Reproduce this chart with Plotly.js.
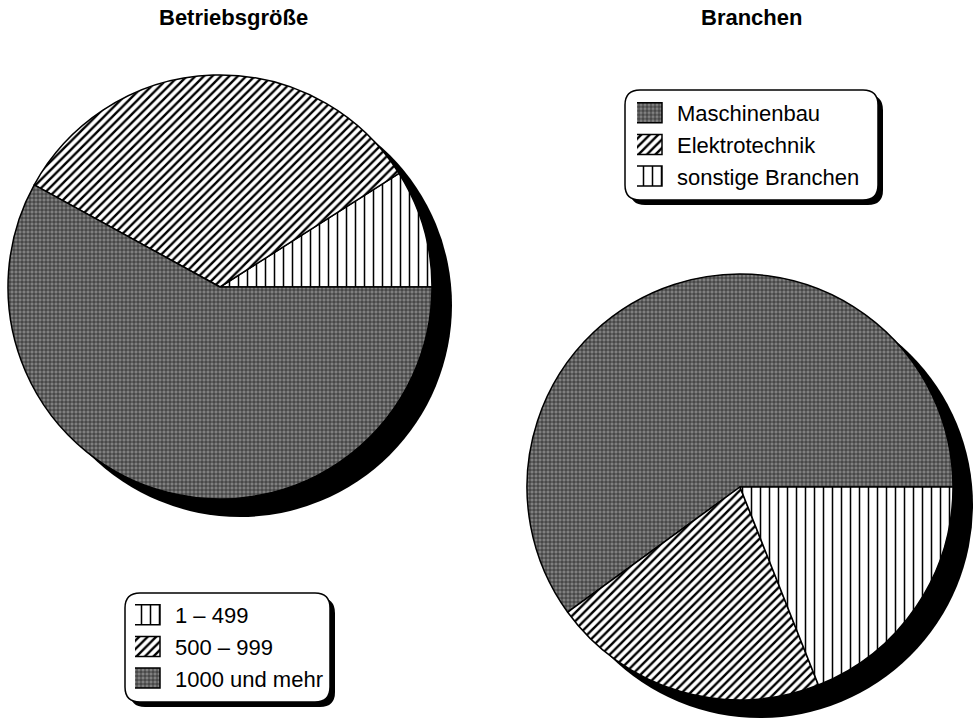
<!DOCTYPE html>
<html>
<head>
<meta charset="utf-8">
<script src="https://cdn.plot.ly/plotly-3.0.1.min.js"></script>
<style>
html,body{margin:0;padding:0;background:#fff;}
#chart{width:980px;height:721px;}
</style>
</head>
<body>
<div id="chart"></div>
<script>
// ---- data ----
const sizeLabels = ["1 \u2013 499", "500 \u2013 999", "1000 und mehr"];
const sizeValues = [9, 33, 58];
const branchLabels = ["Maschinenbau", "Elektrotechnik", "sonstige Branchen"];
const branchValues = [60, 21, 19];
const titleLeft = "Betriebsgröße";
const titleRight = "Branchen";

// ---- layout helpers (pixel -> paper) ----
const W = 980, H = 721;
const px = x => x / W;
const py = y => 1 - y / H;
function domainFor(cx, cy, r) {
  return { x: [px(cx - r), px(cx + r)], y: [py(cy + r), py(cy - r)] };
}
// Plotly (counterclockwise) puts the END of the first slice at "rotation";
// shift so the first slice STARTS at 3 o'clock.
function rotStart3(vals) {
  const s = vals.reduce((a, b) => a + b, 0);
  return 90 - 360 * vals[0] / s;
}
const SH = { dx: 20, dy: 18 };
const leftPie = { cx: 220, cy: 287, r: 212 };
const rightPie = { cx: 740, cy: 487, r: 213 };

const grayFill = "#808080";
const grayFg = "#1a1a1a";
const patternLeft = {
  shape: ["|", "/", "+"],
  fgcolor: ["#000", "#000", grayFg],
  bgcolor: ["#fff", "#fff", grayFill],
  size: [9, 6, 4],
  solidity: [0.17, 0.4, 0.3]
};
const patternRight = {
  shape: ["+", "/", "|"],
  fgcolor: [grayFg, "#000", "#000"],
  bgcolor: [grayFill, "#fff", "#fff"],
  size: [4, 6, 9],
  solidity: [0.3, 0.4, 0.17]
};

const traces = [
  { type: "pie", values: [1], labels: ["s1"], domain: domainFor(leftPie.cx + SH.dx, leftPie.cy + SH.dy, leftPie.r),
    marker: { colors: ["#000"], line: { width: 0 } }, textinfo: "none", hoverinfo: "skip", showlegend: false, sort: false },
  { type: "pie", values: [1], labels: ["s2"], domain: domainFor(rightPie.cx + SH.dx, rightPie.cy + SH.dy, rightPie.r),
    marker: { colors: ["#000"], line: { width: 0 } }, textinfo: "none", hoverinfo: "skip", showlegend: false, sort: false },
  { type: "pie", name: titleLeft, labels: sizeLabels, values: sizeValues, sort: false,
    direction: "counterclockwise", rotation: rotStart3(sizeValues), textinfo: "none",
    domain: domainFor(leftPie.cx, leftPie.cy, leftPie.r),
    marker: { colors: ["#fff", "#fff", grayFill], line: { color: "#000", width: 1.5 }, pattern: patternLeft },
    legend: "legend" },
  { type: "pie", name: titleRight, labels: branchLabels, values: branchValues, sort: false,
    direction: "counterclockwise", rotation: rotStart3(branchValues), textinfo: "none",
    domain: domainFor(rightPie.cx, rightPie.cy, rightPie.r),
    marker: { colors: [grayFill, "#fff", "#fff"], line: { color: "#000", width: 1.5 }, pattern: patternRight },
    legend: "legend2" }
];

function roundRect(x0, y0, x1, y1, rad) {
  const p = (x, y) => px(x) + "," + py(y);
  return "M" + p(x0 + rad, y0) + " L" + p(x1 - rad, y0) + " Q" + p(x1, y0) + " " + p(x1, y0 + rad) +
    " L" + p(x1, y1 - rad) + " Q" + p(x1, y1) + " " + p(x1 - rad, y1) +
    " L" + p(x0 + rad, y1) + " Q" + p(x0, y1) + " " + p(x0, y1 - rad) +
    " L" + p(x0, y0 + rad) + " Q" + p(x0, y0) + " " + p(x0 + rad, y0) + " Z";
}
function legendBox(x0, y0, x1, y1) {
  return [
    { type: "path", xref: "paper", yref: "paper", path: roundRect(x0 + 5, y0 + 5, x1 + 5, y1 + 5, 15),
      fillcolor: "#000", line: { width: 0 }, layer: "below" },
    { type: "path", xref: "paper", yref: "paper", path: roundRect(x0, y0, x1, y1, 15),
      fillcolor: "#fff", line: { color: "#000", width: 1.5 }, layer: "below" }
  ];
}

const fam = "Liberation Sans, Arial, sans-serif";
const legFont = { family: fam, size: 22, color: "#000" };
const layout = {
  width: W, height: H,
  margin: { l: 0, r: 0, t: 0, b: 0 },
  paper_bgcolor: "#fff", plot_bgcolor: "#fff",
  showlegend: true,
  legend: { x: px(135), y: py(594), xanchor: "left", yanchor: "top", bgcolor: "rgba(0,0,0,0)",
    borderwidth: 0, font: legFont, itemclick: false, itemdoubleclick: false },
  legend2: { x: px(637), y: py(92), xanchor: "left", yanchor: "top", bgcolor: "rgba(0,0,0,0)",
    borderwidth: 0, font: legFont, itemclick: false, itemdoubleclick: false },
  shapes: [].concat(legendBox(125, 593, 330, 702), legendBox(625, 90, 878, 200)),
  annotations: [
    { text: titleLeft, xref: "paper", yref: "paper", x: px(233), y: py(18), xanchor: "center", yanchor: "middle",
      showarrow: false, font: { family: fam, size: 22, weight: "bold", color: "#000" } },
    { text: titleRight, xref: "paper", yref: "paper", x: px(751), y: py(18), xanchor: "center", yanchor: "middle",
      showarrow: false, font: { family: fam, size: 22, weight: "bold", color: "#000" } }
  ]
};

Plotly.newPlot("chart", traces, layout, { displayModeBar: false, staticPlot: true }).then(gd => {
  // enlarge legend swatches to match the reference's wider boxes
  gd.querySelectorAll("path.legendpie").forEach(p => p.setAttribute("d", "M5,10H-21V-10H5Z"));
});
</script>
</body>
</html>
